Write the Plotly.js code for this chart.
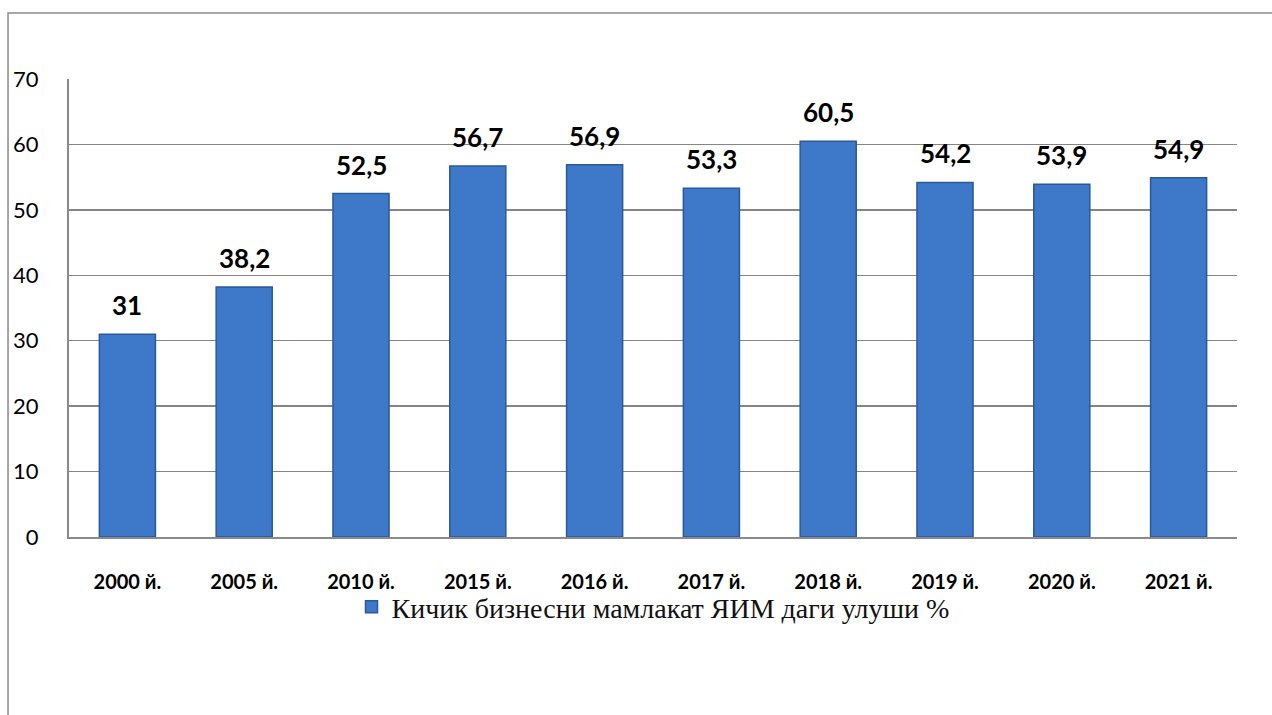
<!DOCTYPE html>
<html>
<head>
<meta charset="utf-8">
<script src="https://cdn.plot.ly/plotly-3.0.1.min.js"></script>
<style>html,body{margin:0;padding:0;background:#fff;}#chart{width:1272px;height:715px;}</style>
</head>
<body>
<div id="chart"></div>
<script>
const categories = ["2000 й.", "2005 й.", "2010 й.", "2015 й.", "2016 й.", "2017 й.", "2018 й.", "2019 й.", "2020 й.", "2021 й."];
const values = [31, 38.2, 52.5, 56.7, 56.9, 53.3, 60.5, 54.2, 53.9, 54.9];
const seriesName = "Кичик бизнесни мамлакат ЯИМ даги улуши %";
const yTicks = [0, 10, 20, 30, 40, 50, 60, 70];

const labels = values.map(v => String(v).replace('.', ','));

const trace = {
  type: 'bar',
  x: categories,
  y: values,
  name: seriesName,
  marker: {color: '#3d78c9', line: {color: '#2b5899', width: 1.5}},
  hoverinfo: 'x+y'
};

const annotations = categories.map((c, i) => ({
  x: c, y: values[i], xref: 'x', yref: 'y',
  text: '<b>' + labels[i] + '</b>',
  showarrow: false, yanchor: 'bottom', yshift: 11,
  font: {family: 'Lato, "Open Sans", sans-serif', size: 26, color: '#000'}
}));

const layout = {
  width: 1272, height: 715,
  margin: {l: 69, r: 35, t: 79, b: 178},
  paper_bgcolor: '#fff', plot_bgcolor: '#fff',
  bargap: 0.52,
  showlegend: true,
  legend: {orientation: 'h', x: 0.5, xanchor: 'center', y: -0.153, yanchor: 'middle',
    bgcolor: 'rgba(0,0,0,0)', itemwidth: 30,
    font: {family: '"Liberation Serif", "Times New Roman", serif', size: 28, color: '#111'}},
  xaxis: {
    type: 'category',
    showline: true, linecolor: '#8a8a8a', linewidth: 2,
    showgrid: false, ticks: '', ticklabelstandoff: 26,
    tickfont: {family: 'Lato, "Open Sans", sans-serif', size: 20, color: '#000', weight: 'bold'}
  },
  yaxis: {
    range: [0, 70], tickvals: yTicks,
    showline: true, linecolor: '#8a8a8a', linewidth: 2,
    showgrid: true, gridcolor: '#858585', gridwidth: 1.5,
    zeroline: false, ticks: '', ticklabelstandoff: 24,
    tickfont: {family: 'Lato, "Open Sans", sans-serif', size: 22, color: '#000'}
  },
  annotations: annotations,
  shapes: [{
    type: 'rect', xref: 'paper', yref: 'paper',
    x0: -0.0522, x1: 1.2, y0: -0.5, y1: 1.144,
    line: {color: '#8a8a8a', width: 1.5}, fillcolor: 'rgba(0,0,0,0)', layer: 'below'
  }]
};

Plotly.newPlot('chart', [trace], layout, {displayModeBar: false, staticPlot: true});
</script>
</body>
</html>
